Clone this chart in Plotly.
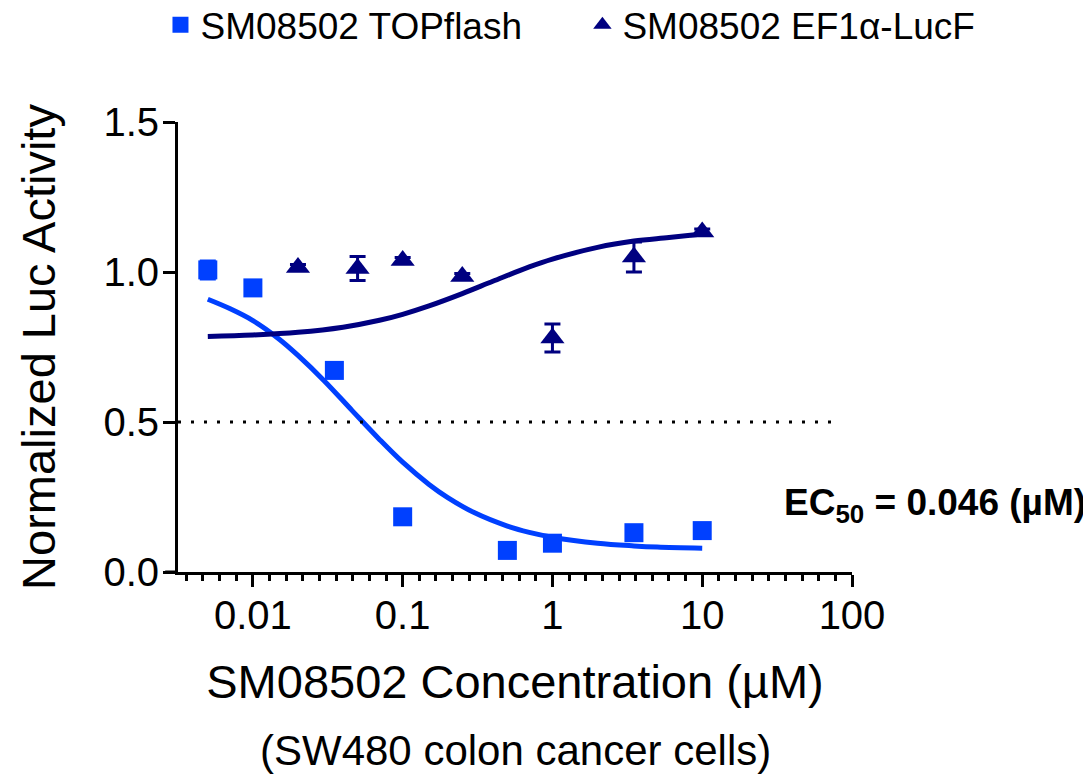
import plotly.graph_objects as go

# ---- data ----
top_conc = [0.005, 0.01, 0.035, 0.1, 0.5, 1, 3.5, 10]
top_vals = [1.007, 0.947, 0.672, 0.184, 0.072, 0.096, 0.131, 0.138]
top_err = [0.03, 0.01, 0.01, 0.01, 0.01, 0.01, 0.01, 0.01]

ef_conc = [0.02, 0.05, 0.1, 0.25, 1, 3.5, 10]
ef_vals = [1.015, 1.012, 1.038, 0.985, 0.78, 1.05, 1.133]
ef_err = [0.01, 0.04, 0.01, 0.01, 0.047, 0.05, 0.01]

top_fit_x = [0.005, 0.007, 0.01, 0.015, 0.02, 0.03, 0.046, 0.07, 0.1, 0.15,
             0.2, 0.3, 0.5, 0.7, 1, 2, 3.5, 5, 10]
top_fit_y = [0.909, 0.878, 0.838, 0.776, 0.722, 0.637, 0.538, 0.442, 0.366, 0.292,
             0.248, 0.198, 0.153, 0.132, 0.116, 0.096, 0.087, 0.083, 0.079]

ef_fit_x = [0.005, 0.01, 0.02, 0.04, 0.07, 0.1, 0.15, 0.25, 0.4, 0.7, 1, 2, 3.5, 6, 10]
ef_fit_y = [0.785, 0.790, 0.799, 0.816, 0.839, 0.859, 0.887, 0.928, 0.969, 1.017,
            1.043, 1.082, 1.103, 1.115, 1.127]

x_tickvals = [0.01, 0.1, 1, 10, 100]
x_ticktext = ["0.01", "0.1", "1", "10", "100"]
y_tickvals = [0, 0.5, 1.0, 1.5]
y_ticktext = ["0.0", "0.5", "1.0", "1.5"]

threshold = 0.5
ec50_label = "EC<sub>50</sub> = 0.046 (µM)"

BLUE = "#0040FF"
NAVY = "#000080"
FONT = "Arial, Liberation Sans, sans-serif"

# evenly spaced (in pixel space) minor ticks, 9 intervals per decade
minor_vals = []
for d in range(-3, 2):
    for j in range(1, 9):
        v = 10 ** (d + j / 9)
        if 10 ** -2.5 <= v <= 100:
            minor_vals.append(v)

fig = go.Figure()

fig.add_trace(go.Scatter(
    x=top_fit_x, y=top_fit_y, mode="lines", line=dict(color=BLUE, width=5, shape="spline"),
    showlegend=False, hoverinfo="skip"))
fig.add_trace(go.Scatter(
    x=ef_fit_x, y=ef_fit_y, mode="lines", line=dict(color=NAVY, width=5, shape="spline"),
    showlegend=False, hoverinfo="skip"))

fig.add_trace(go.Scatter(
    x=top_conc, y=top_vals, mode="markers", name="SM08502 TOPflash", legend="legend",
    marker=dict(symbol="square", size=19, color=BLUE),
    error_y=dict(type="data", array=top_err, color=BLUE, thickness=3, width=8)))
fig.add_trace(go.Scatter(
    x=ef_conc, y=ef_vals, mode="markers", name="SM08502 EF1α-LucF", legend="legend2",
    marker=dict(symbol="triangle-up", size=21, color=NAVY),
    error_y=dict(type="data", array=ef_err, color=NAVY, thickness=3, width=8)))

fig.add_shape(type="line", xref="paper", yref="y", x0=0, x1=0.98, y0=threshold, y1=threshold,
              line=dict(color="black", width=3, dash="3px,10px"))
# short stub of the x axis line left of the y axis (Prism style offset)
fig.add_shape(type="line", xref="paper", yref="paper", x0=-0.019, x1=0, y0=0, y1=0,
              line=dict(color="black", width=3))

fig.add_annotation(text=ec50_label, xref="paper", yref="y", x=1.35, y=0.225,
                   xanchor="right", yanchor="middle", showarrow=False,
                   font=dict(family=FONT, size=37, color="black", weight="bold"))

fig.add_annotation(text="(SW480 colon cancer cells)", xref="paper", yref="paper",
                   x=0.5, y=(572 - 750) / 450, xanchor="center", yanchor="middle",
                   showarrow=False, font=dict(family=FONT, size=42, color="black"))

fig.update_xaxes(
    type="log", range=[-2.5, 2], tickvals=x_tickvals, ticktext=x_ticktext,
    ticks="outside", ticklen=12, tickwidth=3, tickcolor="black",
    minor=dict(tickmode="array", tickvals=minor_vals, ticks="outside", ticklen=6,
               tickwidth=3, tickcolor="black", showgrid=False),
    showline=True, linewidth=3, linecolor="black", showgrid=False, zeroline=False,
    tickfont=dict(family=FONT, size=40, color="black"), ticklabelstandoff=-6,
    title=dict(text="SM08502 Concentration (µM)", font=dict(family=FONT, size=47, color="black"),
               standoff=30))

fig.update_yaxes(
    range=[0, 1.5], tickvals=y_tickvals, ticktext=y_ticktext,
    ticks="outside", ticklen=12, tickwidth=3, tickcolor="black",
    showline=True, linewidth=3, linecolor="black", showgrid=False, zeroline=False,
    tickfont=dict(family=FONT, size=40, color="black"), ticklabelstandoff=-4,
    title=dict(text="Normalized Luc Activity", font=dict(family=FONT, size=47, color="black"),
               standoff=33))

legend_style = dict(orientation="h", xanchor="left", y=1.215, yanchor="middle",
                    font=dict(family=FONT, size=37, color="black"), bgcolor="rgba(0,0,0,0)")

# the page adds an 8px body margin, so the figure is 8px smaller than the window
fig.update_layout(
    width=1083, height=767,
    margin=dict(l=170, r=239, t=114, b=203, autoexpand=False),
    plot_bgcolor="white", paper_bgcolor="white",
    font=dict(family=FONT, color="black"),
    legend=dict(x=-0.026, **legend_style),
    legend2=dict(x=0.6, **legend_style),
)

fig.write_html("out.html")
